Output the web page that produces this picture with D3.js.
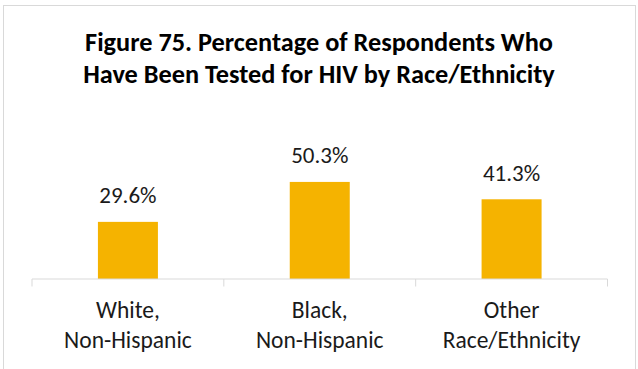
<!DOCTYPE html>
<html>
<head>
<meta charset="utf-8">
<script src="https://cdn.jsdelivr.net/npm/d3@7"></script>
<style>
  html, body { margin: 0; padding: 0; background: #fff; }
  svg { display: block; }
  text { font-family: Carlito, Calibri, "Open Sans", sans-serif; }
</style>
</head>
<body>
<svg id="chart" width="638" height="369"></svg>
<script>
const titleLines = ["Figure 75. Percentage of Respondents Who", "Have Been Tested for HIV by Race/Ethnicity"];
const categories = ["White, Non-Hispanic", "Black, Non-Hispanic", "Other Race/Ethnicity"];
const categoryLines = [["White,", "Non-Hispanic"], ["Black,", "Non-Hispanic"], ["Other", "Race/Ethnicity"]];
const values = [29.6, 50.3, 41.3];
const valueLabels = ["29.6%", "50.3%", "41.3%"];

const W = 638, H = 369;
const svg = d3.select("#chart");

// outer border
svg.append("rect")
  .attr("x", 3.5).attr("y", 5.5)
  .attr("width", 632).attr("height", H + 10)
  .attr("fill", "#fff").attr("stroke", "#d9d9d9").attr("stroke-width", 1);

const x = d3.scaleBand().domain(categories).range([32, 607.5]).paddingInner(0).paddingOuter(0);
const barW = 60;
const y = d3.scaleLinear().domain([0, 60]).range([279, 279 - 1.93 * 60]);

// title
svg.append("text")
  .attr("text-anchor", "middle")
  .attr("font-weight", "bold")
  .attr("font-size", 26.3)
  .attr("fill", "#000")
  .selectAll("tspan").data(titleLines).join("tspan")
  .attr("x", 319).attr("y", (d, i) => 51 + i * 32)
  .text(d => d);

// bars
svg.append("g").selectAll("rect").data(values).join("rect")
  .attr("x", (d, i) => x(categories[i]) + x.bandwidth() / 2 - barW / 2)
  .attr("width", barW)
  .attr("y", d => y(d))
  .attr("height", d => y(0) - y(d))
  .attr("fill", "#f5b300");

// value labels
svg.append("g").selectAll("text").data(values).join("text")
  .attr("x", (d, i) => x(categories[i]) + x.bandwidth() / 2)
  .attr("y", d => y(d) - 18.5)
  .attr("text-anchor", "middle")
  .attr("font-size", 23)
  .attr("fill", "#1a1a1a")
  .text((d, i) => valueLabels[i]);

// axis
const axis = d3.axisBottom(x).tickSize(0).tickFormat("");
const gAxis = svg.append("g").attr("transform", "translate(0,279)").call(axis);
gAxis.select(".domain").attr("stroke", "#d9d9d9").attr("d", "M32,0H607.5");
const bounds = [32, ...categories.map(c => x(c) + x.bandwidth())];
gAxis.selectAll(".bound").data(bounds).join("line")
  .attr("class", "bound")
  .attr("x1", d => d).attr("x2", d => d)
  .attr("y1", 0).attr("y2", 7.5)
  .attr("stroke", "#d9d9d9");

// category labels
svg.append("g").selectAll("text").data(categories).join("text")
  .attr("text-anchor", "middle")
  .attr("font-size", 23.5)
  .attr("fill", "#1a1a1a")
  .each(function (c, i) {
    d3.select(this).selectAll("tspan").data(categoryLines[i]).join("tspan")
      .attr("x", x(c) + x.bandwidth() / 2)
      .attr("y", (d, j) => 318 + j * 30)
      .text(d => d);
  });
</script>
</body>
</html>
